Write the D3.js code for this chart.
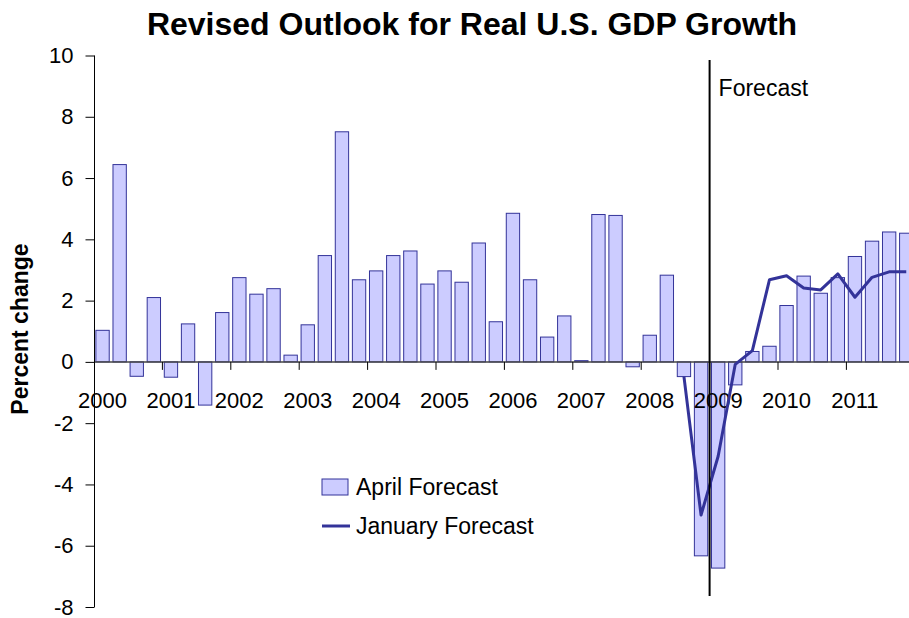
<!DOCTYPE html>
<html>
<head>
<meta charset="utf-8">
<script src="https://cdn.jsdelivr.net/npm/d3@7/dist/d3.min.js"></script>
<style>
  html, body { margin: 0; padding: 0; background: #fff; }
  svg { display: block; font-family: "Liberation Sans", Arial, sans-serif; }
</style>
</head>
<body>
<svg id="chart" width="909" height="618"></svg>
<script>
// Years on the category axis; each year has four quarters
const years = ["2000","2001","2002","2003","2004","2005","2006","2007","2008","2009","2010","2011"];
const quarters = years.flatMap(y => ["Q1","Q2","Q3","Q4"].map(q => y + q));

// April forecast: real GDP growth, annualized percent change by quarter
const aprilForecast = [
  1.03, 6.44, -0.47, 2.10,
  -0.50, 1.24, -1.41, 1.61,
  2.75, 2.21, 2.39, 0.22,
  1.21, 3.47, 7.51, 2.68,
  2.97, 3.47, 3.62, 2.54,
  2.97, 2.60, 3.88, 1.31,
  4.85, 2.68, 0.81, 1.50,
  0.04, 4.81, 4.78, -0.16,
  0.87, 2.83, -0.48, -6.33,
  -6.73, -0.75, 0.34, 0.51,
  1.84, 2.80, 2.24, 2.75,
  3.44, 3.94, 4.24, 4.20
];

// January forecast, from 2008Q3 onward
const januaryQuarters = quarters.slice(34);
const januaryForecast = [-0.48, -5.0, -3.08, -0.08, 0.37, 2.68, 2.81, 2.41, 2.35, 2.87, 2.11, 2.76, 2.94, 2.94];

const yTicks = [10, 8, 6, 4, 2, 0, -2, -4, -6, -8];
const forecastStart = "2009Q1";

const svg = d3.select("#chart");
const barFill = "#ccccff", barStroke = "#333399", lineColor = "#333399";

const x = d3.scaleBand()
  .domain(quarters)
  .range([94, 914.8])
  .paddingInner(0.22)
  .paddingOuter(0.11);

const y = d3.scaleLinear().domain([-8, 10]).range([607, 55.5]);

// Title
svg.append("text")
  .attr("x", 472).attr("y", 35)
  .attr("text-anchor", "middle")
  .attr("font-size", 32).attr("font-weight", "bold")
  .text("Revised Outlook for Real U.S. GDP Growth");

// Y axis title
svg.append("text")
  .attr("transform", "translate(28,329) rotate(-90)")
  .attr("text-anchor", "middle")
  .attr("font-size", 23).attr("font-weight", "bold")
  .text("Percent change");

// Bars
svg.append("g").selectAll("rect")
  .data(aprilForecast.map((v, i) => ({ q: quarters[i], v })))
  .join("rect")
  .attr("x", d => x(d.q))
  .attr("width", x.bandwidth())
  .attr("y", d => y(Math.max(0, d.v)))
  .attr("height", d => Math.abs(y(d.v) - y(0)))
  .attr("fill", barFill)
  .attr("stroke", barStroke)
  .attr("stroke-width", 1);

// Zero line with year ticks below it
const x0 = x.range()[0], step = x.step();
svg.append("line")
  .attr("x1", x0).attr("x2", x.range()[1])
  .attr("y1", y(0)).attr("y2", y(0))
  .attr("stroke", "#444").attr("stroke-width", 1.5);

const yearG = svg.append("g");
years.forEach((yr, i) => {
  const bx = x0 + i * 4 * step;
  if (i > 0) {
    yearG.append("line")
      .attr("x1", bx).attr("x2", bx)
      .attr("y1", y(0)).attr("y2", y(0) + 8)
      .attr("stroke", "#000").attr("stroke-width", 1);
  }
  yearG.append("text")
    .attr("x", bx + step / 2).attr("y", 408)
    .attr("text-anchor", "middle")
    .attr("font-size", 22)
    .text(yr);
});

// Y axis
const yAxis = d3.axisLeft(y).tickValues(yTicks).tickSize(9).tickPadding(12).tickFormat(d => String(d));
const yg = svg.append("g").attr("transform", "translate(94.5,0)").call(yAxis);
yg.select(".domain").attr("stroke", "#000").attr("d", `M0,${y(10)}V${y(-8)}`);
yg.selectAll(".tick line").attr("stroke", "#000");
yg.selectAll(".tick text").attr("font-size", 22).attr("font-family", "Liberation Sans, Arial, sans-serif").attr("fill", "#000");

// January forecast line
const line = d3.line()
  .x((d, i) => x(januaryQuarters[i]) + x.bandwidth() / 2)
  .y(d => y(d));
svg.append("path")
  .datum(januaryForecast)
  .attr("d", line)
  .attr("fill", "none")
  .attr("stroke", lineColor)
  .attr("stroke-width", 3)
  .attr("stroke-linejoin", "round");

// Forecast divider
const fx = x0 + quarters.indexOf(forecastStart) * step;
svg.append("line")
  .attr("x1", fx).attr("x2", fx)
  .attr("y1", 60).attr("y2", 596)
  .attr("stroke", "#000").attr("stroke-width", 2);
svg.append("text")
  .attr("x", fx + 9).attr("y", 96)
  .attr("font-size", 23)
  .text("Forecast");

// Legend
const lg = svg.append("g");
lg.append("rect")
  .attr("x", 322).attr("y", 479).attr("width", 26).attr("height", 16)
  .attr("fill", barFill).attr("stroke", barStroke).attr("stroke-width", 1);
lg.append("text").attr("x", 356).attr("y", 495).attr("font-size", 23).text("April Forecast");
lg.append("line")
  .attr("x1", 322).attr("x2", 350).attr("y1", 526).attr("y2", 526)
  .attr("stroke", lineColor).attr("stroke-width", 3);
lg.append("text").attr("x", 356).attr("y", 534).attr("font-size", 23).text("January Forecast");
</script>
</body>
</html>
